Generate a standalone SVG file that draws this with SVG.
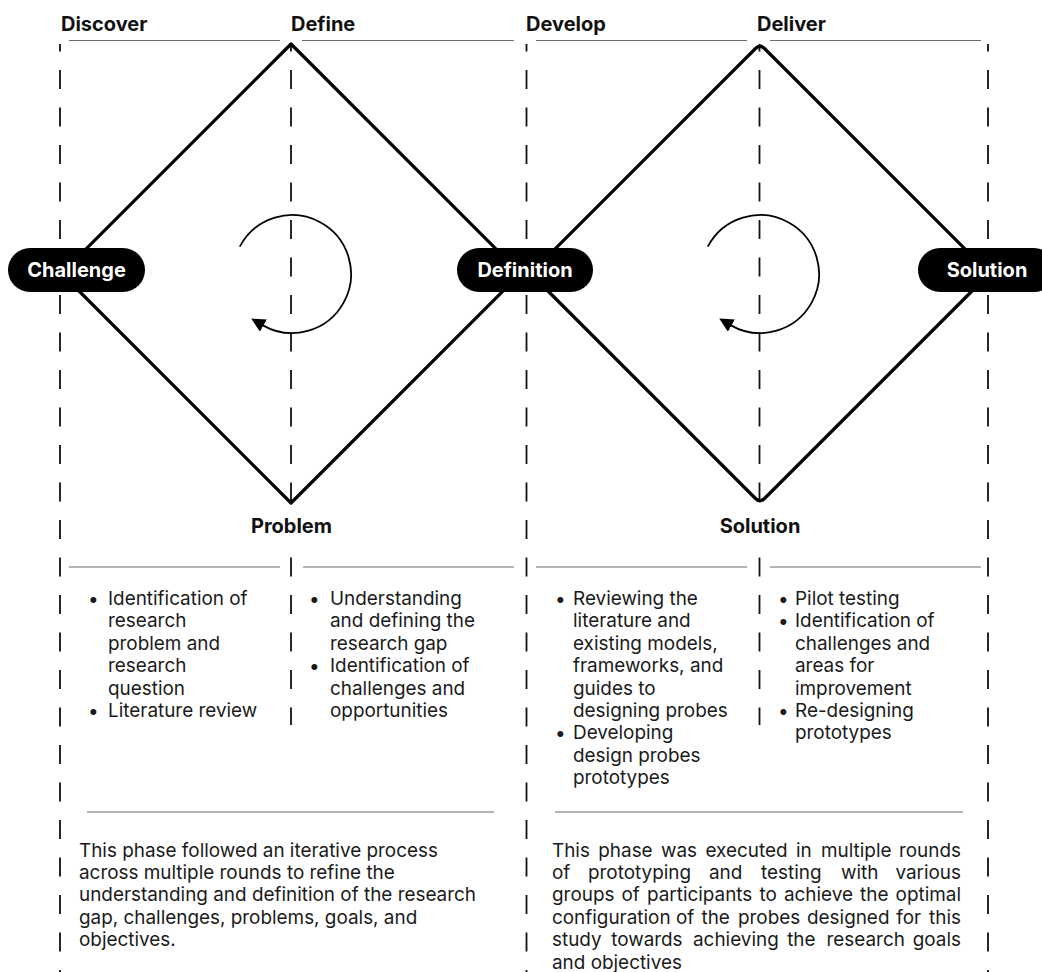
<svg xmlns="http://www.w3.org/2000/svg" width="1042" height="972" viewBox="0 0 1042 972">
  <style>
    .hdr { font-family: Inter, "Liberation Sans", sans-serif; font-weight: 700; font-size: 20px; fill: #111; }
    .pill { fill: #000; }
    .pill-text { font-family: Inter, "Liberation Sans", sans-serif; font-weight: 700; font-size: 20px; fill: #fff; text-anchor: middle; }
    .lbl { font-family: Inter, "Liberation Sans", sans-serif; font-weight: 700; font-size: 20px; fill: #111; text-anchor: middle; }
    .body { font-family: Inter, "Liberation Sans", sans-serif; font-size: 18.9px; fill: #1a1a1a; }
    .rule { stroke: #6b6b6b; stroke-width: 1.2; fill: none; }
    .guide { stroke: #111; stroke-width: 1.8; stroke-dasharray: 19 18.5; stroke-dashoffset: 11.5; fill: none; }
    .diamond { stroke: #000; stroke-width: 3.2; fill: none; stroke-linejoin: round; }
    .loop { stroke: #000; stroke-width: 1.8; fill: none; marker-end: url(#head); }
    .bg { fill: #fff; }
    .end { text-anchor: end; }
  </style>
  <defs>
    <marker id="head" markerUnits="userSpaceOnUse" viewBox="0 0 14 14" refX="1" refY="7" markerWidth="14" markerHeight="14" orient="auto">
      <path d="M0,0 L14,7 L0,14 Z" fill="#000"/>
    </marker>
  </defs>

  <!-- phase guides and dividers -->
  <g id="connectors">
    <line class="guide" x1="60" y1="44" x2="60" y2="972"/>
    <line class="guide" x1="291" y1="44" x2="291" y2="725"/>
    <line class="guide" x1="526.5" y1="44" x2="526.5" y2="972"/>
    <line class="guide" x1="759.5" y1="44" x2="759.5" y2="725"/>
    <line class="guide" x1="988" y1="44" x2="988" y2="972"/>

    <line class="rule" x1="69" y1="40.5" x2="280" y2="40.5"/>
    <line class="rule" x1="302" y1="40.5" x2="514" y2="40.5"/>
    <line class="rule" x1="536" y1="40.5" x2="747" y2="40.5"/>
    <line class="rule" x1="770" y1="40.5" x2="981" y2="40.5"/>

    <line class="rule" x1="69" y1="567" x2="280" y2="567"/>
    <line class="rule" x1="303" y1="567" x2="514" y2="567"/>
    <line class="rule" x1="536" y1="567" x2="747" y2="567"/>
    <line class="rule" x1="770" y1="567" x2="981" y2="567"/>

    <line class="rule" x1="87" y1="812" x2="494" y2="812"/>
    <line class="rule" x1="555" y1="812" x2="963" y2="812"/>

    <!-- iteration loops -->
    <path class="loop" d="M239.8 246.6 A59 59 0 1 1 262.5 325.1"/>
    <path class="loop" d="M707.8 246.6 A59 59 0 1 1 730.5 325.1"/>
  </g>

  <!-- diamonds -->
  <g id="diamond-discover-define">
    <path class="diamond" d="M291 44 L520.5 273.5 L291 503 L61.5 273.5 Z"/>
  </g>
  <g id="diamond-develop-deliver">
    <path class="diamond" d="M755.5 48.5 Q760 44 764.5 48.5 L989.5 273.5 L764.5 498.5 Q760 503 755.5 498.5 L530.5 273.5 Z"/>
  </g>

  <!-- phase headings -->
  <g id="heading-discover"><text class="hdr" x="61" y="31">Discover</text></g>
  <g id="heading-define"><text class="hdr" x="291" y="31">Define</text></g>
  <g id="heading-develop"><text class="hdr" x="526" y="31">Develop</text></g>
  <g id="heading-deliver"><text class="hdr" x="757" y="31">Deliver</text></g>

  <!-- pills -->
  <g id="node-challenge">
    <rect class="pill" x="8" y="248" width="137" height="44" rx="22"/>
    <text class="pill-text" x="76.5" y="277">Challenge</text>
  </g>
  <g id="node-definition">
    <rect class="pill" x="457" y="248" width="136" height="44" rx="22"/>
    <text class="pill-text" x="525" y="277">Definition</text>
  </g>
  <g id="node-solution-end">
    <rect class="pill" x="918" y="248" width="138" height="44" rx="22"/>
    <text class="pill-text" x="987" y="277">Solution</text>
  </g>

  <!-- vertex labels -->
  <g id="node-problem">
    <rect class="bg" x="240" y="505" width="102" height="36"/>
    <text class="lbl" x="291.5" y="533">Problem</text>
  </g>
  <g id="node-solution-mid">
    <rect class="bg" x="709" y="505" width="102" height="36"/>
    <text class="lbl" x="760" y="533">Solution</text>
  </g>

  <!-- activity lists -->
  <g id="list-discover" class="body">
    <text x="88" y="605">•</text>
    <text x="108" y="605">Identification of</text>
    <text x="108" y="627.4">research</text>
    <text x="108" y="649.8">problem and</text>
    <text x="108" y="672.2">research</text>
    <text x="108" y="694.6">question</text>
    <text x="88" y="717">•</text>
    <text x="108" y="717">Literature review</text>
  </g>
  <g id="list-define" class="body">
    <text x="309" y="605">•</text>
    <text x="330" y="605">Understanding</text>
    <text x="330" y="627.4">and defining the</text>
    <text x="330" y="649.8">research gap</text>
    <text x="309" y="672.2">•</text>
    <text x="330" y="672.2">Identification of</text>
    <text x="330" y="694.6">challenges and</text>
    <text x="330" y="717">opportunities</text>
  </g>
  <g id="list-develop" class="body">
    <text x="555" y="605">•</text>
    <text x="573" y="605">Reviewing the</text>
    <text x="573" y="627.4">literature and</text>
    <text x="573" y="649.8">existing models,</text>
    <text x="573" y="672.2">frameworks, and</text>
    <text x="573" y="694.6">guides to</text>
    <text x="573" y="717">designing probes</text>
    <text x="555" y="739.4">•</text>
    <text x="573" y="739.4">Developing</text>
    <text x="573" y="761.8">design probes</text>
    <text x="573" y="784.2">prototypes</text>
  </g>
  <g id="list-deliver" class="body">
    <text x="778" y="605">•</text>
    <text x="795" y="605">Pilot testing</text>
    <text x="778" y="627.4">•</text>
    <text x="795" y="627.4">Identification of</text>
    <text x="795" y="649.8">challenges and</text>
    <text x="795" y="672.2">areas for</text>
    <text x="795" y="694.6">improvement</text>
    <text x="778" y="717">•</text>
    <text x="795" y="717">Re-designing</text>
    <text x="795" y="739.4">prototypes</text>
  </g>

  <!-- phase summaries -->
  <g id="summary-diverge-converge-1" class="body">
    <text x="79" y="856.5">This phase followed an iterative process</text>
    <text x="79" y="878.9">across multiple rounds to refine the</text>
    <text x="79" y="901.3">understanding and definition of the research</text>
    <text x="79" y="923.7">gap, challenges, problems, goals, and</text>
    <text x="79" y="946.1">objectives.</text>
  </g>
  <!-- justified paragraph: words placed on their own, last word pinned to the right margin -->
  <g id="summary-diverge-converge-2" class="body">
    <text y="856.5"><tspan x="552">This</tspan><tspan x="598.3">phase</tspan><tspan x="661">was</tspan><tspan x="705.5">executed</tspan><tspan x="796">in</tspan><tspan x="821">multiple</tspan><tspan class="end" x="961">rounds</tspan></text>
    <text y="878.9"><tspan x="552">of</tspan><tspan x="588">prototyping</tspan><tspan x="709">and</tspan><tspan x="761">testing</tspan><tspan x="841">with</tspan><tspan class="end" x="961">various</tspan></text>
    <text y="901.3"><tspan x="552" word-spacing="1.8">groups of participants to achieve the</tspan><tspan class="end" x="961">optimal</tspan></text>
    <text y="923.7"><tspan x="552">configuration</tspan><tspan x="676">of</tspan><tspan x="701.5">the</tspan><tspan x="738">probes</tspan><tspan x="807">designed</tspan><tspan x="896.3">for</tspan><tspan class="end" x="961">this</tspan></text>
    <text y="946.1"><tspan x="552">study</tspan><tspan x="611.2">towards</tspan><tspan x="693">achieving</tspan><tspan x="787.2">the</tspan><tspan x="826.5">research</tspan><tspan class="end" x="961">goals</tspan></text>
    <text x="552" y="968.5">and objectives</text>
  </g>
</svg>
